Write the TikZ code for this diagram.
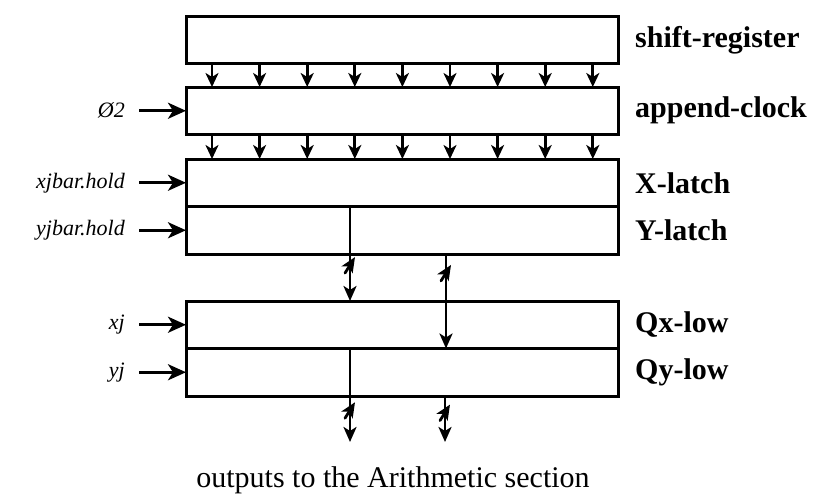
\documentclass[tikz,border=0pt]{standalone}
\usepackage{fontspec}
\setmainfont{Liberation Serif}
\usepackage{tikz}
\usetikzlibrary{arrows.meta,calc,positioning}

\tikzset{
  widthmark/.pic={\draw[line width=2.8pt, line cap=round] (-5pt,-8pt) -- (5pt,8pt);}
}

\begin{document}
\begin{tikzpicture}[
  x=1pt, y=-1pt,
  reg/.style={draw, line width=3pt, minimum width=432pt, minimum height=47.5pt, inner sep=0pt, outer sep=0pt, anchor=north west},
  reglabel/.style={font=\fontsize{30}{32}\selectfont\bfseries, inner sep=0pt, anchor=west},
  inlabel/.style={font=\fontsize{22}{24}\selectfont\itshape, inner sep=0pt, anchor=east},
  clkarrow/.style={-{Stealth[length=14pt, width=13pt, inset=4pt]}, line width=2.8pt},
  inarrow/.style={-{Stealth[length=18pt, width=16pt, inset=5pt]}, line width=3pt},
  bus/.style={-{Stealth[length=15pt, width=13pt, inset=4pt]}, line width=2.8pt}
]
  \useasboundingbox (0,0) rectangle (820,498);

  % register stack
  \node[reg] (sreg) at (186,16) {};
  \node[reg] (aclk) at (186,87) {};
  \node[reg] (xlatch) at (186,159) {};
  \node[reg] (ylatch) at (186,206.5) {};
  \node[reg] (qxlow) at (186,301) {};
  \node[reg] (qylow) at (186,348.5) {};

  \node[reglabel, right=17pt of sreg.east] (sregl) {shift-register};
  \node[reglabel, right=17pt of aclk.east] (aclkl) {append-clock};
  \node[reglabel, right=17pt of xlatch.east] (xlatchl) {X-latch};
  \node[reglabel, right=17pt of ylatch.east] (ylatchl) {Y-latch};
  \node[reglabel, right=17pt of qxlow.east] (qxlowl) {Qx-low};
  \node[reglabel, right=17pt of qylow.east] (qylowl) {Qy-low};

  % parallel transfers
  \foreach \i [evaluate=\i as \dx using 26+47.6*\i] in {0,...,8} {
    \draw[clkarrow] ([xshift=\dx pt]sreg.south west) -- ([xshift=\dx pt]aclk.north west);
    \draw[clkarrow] ([xshift=\dx pt]aclk.south west) -- ([xshift=\dx pt]xlatch.north west);
  }

  % control inputs
  \foreach \reg/\name/\txt in {aclk/phi/{Ø2}, xlatch/xhold/{xjbar.hold}, ylatch/yhold/{yjbar.hold}, qxlow/xj/{xj}, qylow/yj/{yj}} {
    \coordinate (\name in) at ([xshift=-47pt]\reg.west);
    \node[inlabel, left=14pt of \name in] (\name) {\txt};
    \draw[inarrow] (\name in) -- (\reg.west);
  }

  % buses
  \coordinate (outa) at ([xshift=164pt, yshift=-46pt]qylow.south west);
  \coordinate (outb) at ([xshift=259pt, yshift=-46pt]qylow.south west);
  \draw[bus] ([xshift=164pt]xlatch.south west) -- ([xshift=164pt]qxlow.north west) pic[pos=0.62]{widthmark};
  \draw[bus] ([xshift=260pt]ylatch.south west) -- ([xshift=260pt]qxlow.south west) pic[pos=0.2]{widthmark};
  \draw[bus] ([xshift=164pt]qxlow.south west) -- (outa) pic[pos=0.66]{widthmark};
  \draw[bus] ([xshift=259pt]qylow.south west) -- (outb) pic[pos=0.36]{widthmark};

  \node[font=\fontsize{30}{32}\selectfont, anchor=base] (outtxt) at (393,487) {outputs to the Arithmetic section};
\end{tikzpicture}
\end{document}
